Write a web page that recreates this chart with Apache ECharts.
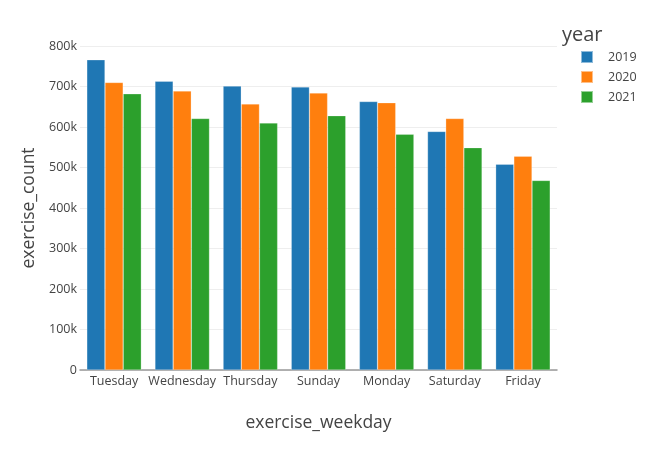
<!DOCTYPE html>
<html><head><meta charset="utf-8">
<script src="https://cdn.jsdelivr.net/npm/echarts@6/dist/echarts.min.js"></script>
<style>html,body{margin:0;padding:0;background:#fff}#c{width:660px;height:450px}</style>
</head><body><div id="c"></div>
<script>
var categories = ['Tuesday','Wednesday','Thursday','Sunday','Monday','Saturday','Friday'];
var years = ['2019','2020','2021'];
var v2019 = [766000, 713000, 701000, 699000, 663000, 589000, 508000];
var v2020 = [710000, 689000, 657000, 684000, 660000, 621000, 528000];
var v2021 = [682000, 621000, 610000, 628000, 582000, 549000, 468000];
var colors = ['#1f77b4','#ff7f0e','#2ca02c'];
var font = '"Open Sans", "DejaVu Sans", sans-serif';
var chart = echarts.init(document.getElementById('c'), null, {renderer:'canvas'});
function mk(name, data, i){
  return {name:name, type:'bar', data:data, barGap:'0%', barCategoryGap:'20%',
    itemStyle:{color:colors[i], borderColor:'rgba(255,255,255,0.5)', borderWidth:0.5}};
}
chart.setOption({
  animation:false,
  textStyle:{fontFamily:font},
  grid:{left:80, right:103, top:46, bottom:80},
  title:{text:'year', left:557, top:20, textStyle:{fontFamily:font, fontSize:20, fontWeight:'normal', color:'#444'}},
  legend:{orient:'vertical', left:575, top:45, itemWidth:12, itemHeight:12, itemGap:6, icon:'rect',
    data:years, textStyle:{fontFamily:font, fontSize:12.5, color:'#444', padding:[0,0,0,10]}},
  xAxis:{type:'category', data:categories,
    axisLine:{lineStyle:{color:'#999', width:1.5}}, axisTick:{show:false},
    axisLabel:{color:'#444', fontSize:12.5, fontFamily:font, margin:5, interval:0},
    name:'exercise_weekday', nameLocation:'middle', nameGap:44,
    nameTextStyle:{color:'#444', fontSize:17.5, fontFamily:font}},
  yAxis:{type:'value', min:0, max:800000, interval:100000,
    axisLine:{show:false}, axisTick:{show:false},
    splitLine:{lineStyle:{color:'#eee', width:1}},
    axisLabel:{color:'#444', fontSize:12.5, fontFamily:font, margin:3,
      formatter:function(v){return v===0?'0':(v/1000)+'k';}},
    name:'exercise_count', nameLocation:'middle', nameGap:37,
    nameTextStyle:{color:'#444', fontSize:17.5, fontFamily:font}},
  series:[mk('2019',v2019,0), mk('2020',v2020,1), mk('2021',v2021,2)]
});
</script></body></html>
